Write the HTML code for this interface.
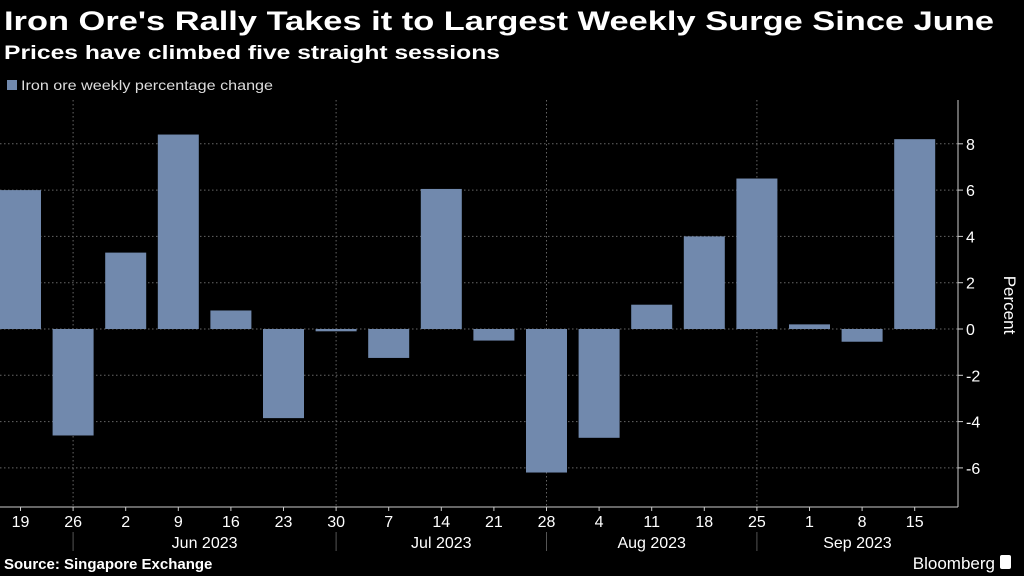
<!DOCTYPE html>
<html><head><meta charset="utf-8"><style>
html,body{margin:0;padding:0;background:#000;width:1024px;height:576px;overflow:hidden;font-family:"Liberation Sans",sans-serif;}
</style></head><body>
<svg id="chart" width="1024" height="576" xmlns="http://www.w3.org/2000/svg">
<text x="4" y="30" fill="#fff" font-size="27" font-weight="bold" font-family="Liberation Sans, sans-serif" textLength="990" lengthAdjust="spacingAndGlyphs">Iron Ore's Rally Takes it to Largest Weekly Surge Since June</text>
<text x="4" y="59" fill="#fff" font-size="19" font-weight="bold" textLength="496" lengthAdjust="spacingAndGlyphs">Prices have climbed five straight sessions</text>
<rect x="7" y="80" width="10" height="10" fill="#7189ad"/>
<text x="21" y="90" fill="#ddd" font-size="14" textLength="252" lengthAdjust="spacingAndGlyphs">Iron ore weekly percentage change</text>
<g id="grid"></g><g id="bars"></g><g id="axes"></g>
<text transform="translate(1004,305) rotate(90)" fill="#fff" font-size="17" text-anchor="middle">Percent</text>
<text x="4" y="569" fill="#fff" font-size="15" font-weight="bold">Source: Singapore Exchange</text>
<text x="995" y="569" fill="#fff" font-size="17" text-anchor="end">Bloomberg</text>
<rect x="1000" y="555" width="11" height="14" rx="2" fill="#fff"/>
</svg>
<script>
const categories=["19","26","2","9","16","23","30","7","14","21","28","4","11","18","25","1","8","15"];
const values=[6.0,-4.6,3.3,8.4,0.8,-3.85,-0.1,-1.25,6.05,-0.5,-6.2,-4.7,1.05,4.0,6.5,0.2,-0.55,8.2];
const yTicks=[-6,-4,-2,0,2,4,6,8];
const months=["Jun 2023","Jul 2023","Aug 2023","Sep 2023"];
const monthStart=[1,6,10,14];
const NS="http://www.w3.org/2000/svg";
const x=i=>20.5+i*52.6;
const y=v=>329-v*23.15;
function mk(p,tag,a){const e=document.createElementNS(NS,tag);for(const k in a)e.setAttribute(k,a[k]);p.appendChild(e);return e;}
const grid=document.getElementById('grid'),bars=document.getElementById('bars'),axes=document.getElementById('axes');
yTicks.forEach(t=>{
 const l=mk(grid,'line',{x1:0,x2:958,y1:y(t),y2:y(t),stroke:'#666','stroke-dasharray':'1.5,2.5','stroke-width':1});
 
 
 const tk=mk(axes,'line',{x1:958,x2:963,y1:y(t),y2:y(t),stroke:'#ccc'});
 
 
 const tx=mk(axes,'text',{x:966,y:y(t)+6,fill:'#fff','font-size':16});
 tx.textContent=t;
 
 
});
monthStart.forEach(i=>{
 const px=x(i-0.5)+26.3;
 const l=mk(grid,'line',{x1:px,x2:px,y1:100,y2:507,stroke:'#666','stroke-dasharray':'1.5,2.5'});
 
 
 const s=mk(axes,'line',{x1:px,x2:px,y1:532,y2:551,stroke:'#555'});
 
 
});
values.forEach((v,i)=>{
 const r=mk(bars,'rect',{x:x(i)-20.5,y:Math.min(y(v),y(0)),width:41,height:Math.abs(y(v)-y(0)),fill:'#7189ad'});
 
 
});
const ax=mk(axes,'line',{x1:0,x2:958,y1:507,y2:507,stroke:'#ccc'});


const ay=mk(axes,'line',{x1:958,x2:958,y1:100,y2:507,stroke:'#ccc'});


categories.forEach((c,i)=>{
 const tk=mk(axes,'line',{x1:x(i),x2:x(i),y1:507,y2:511,stroke:'#ccc'});
 
 
 const t=mk(axes,'text',{x:x(i),y:527,fill:'#fff','font-size':16,'text-anchor':'middle'});
 t.textContent=c;
 
 
});
months.forEach((m,k)=>{
 const a=x(monthStart[k]-0.5)+26.3;
 const b=k<months.length-1?x(monthStart[k+1]-0.5)+26.3:958;
 const t=mk(axes,'text',{x:(a+b)/2,y:548,fill:'#fff','font-size':16,'text-anchor':'middle'});
 t.textContent=m;
 
 
});
</script>
</body></html>
